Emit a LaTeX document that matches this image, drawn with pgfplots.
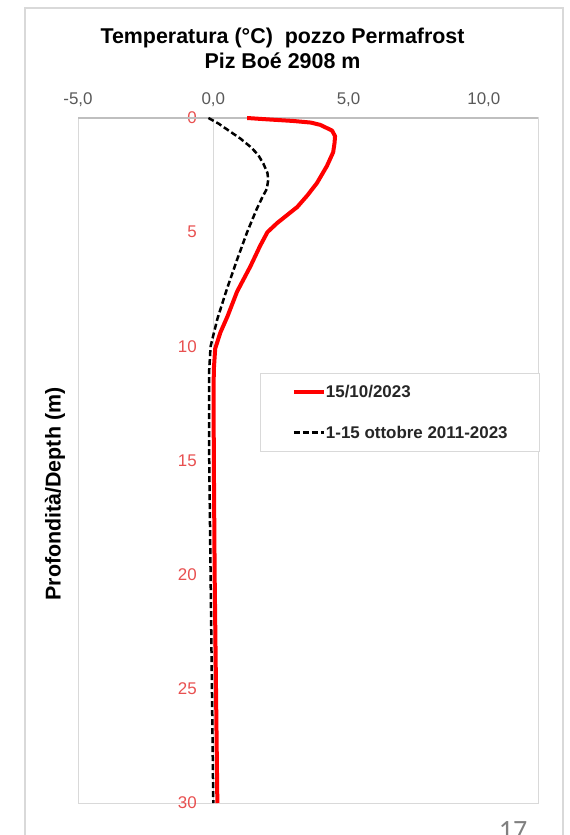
\documentclass[border=0pt]{standalone}
\usepackage{fontspec}
\setmainfont{Liberation Sans}
\newfontfamily\carlito{Carlito}
\usepackage{pgfplots}
\pgfplotsset{compat=1.18}
\definecolor{tickred}{HTML}{E85050}
\definecolor{tickgray}{HTML}{595959}
\definecolor{framegray}{HTML}{D9D9D9}
\definecolor{axgray}{HTML}{BFBFBF}
\begin{document}
\begin{tikzpicture}[x=1bp,y=1bp]
\useasboundingbox (0,0) rectangle (570,835);
\draw[framegray, line width=1.2bp] (25,-10) -- (25,827) -- (563,827) -- (563,-10);
\node[text=gray, font=\carlito\fontsize{28}{30}\selectfont, anchor=base, inner sep=0pt] at (513,-4) {17};
\begin{axis}[
  at={(78bp,32bp)}, anchor=south west,
  scale only axis, width=460bp, height=685bp,
  xmin=-5, xmax=12, ymin=0, ymax=30,
  y dir=reverse,
  xtick={-5,0,5,10},
  xticklabels={{-5,0},{0,0},{5,0},{10,0}},
  ytick={0,5,10,15,20,25,30},
  xticklabel pos=right,
  major tick length=0pt,
  axis line style={draw=framegray, line width=1bp},
  x tick label style={font=\fontsize{17}{19}\selectfont, text=tickgray, inner sep=0pt, anchor=south, yshift=11bp},
  y tick label style={font=\fontsize{17}{19}\selectfont, text=tickred, inner sep=0pt, anchor=east, xshift=119bp},
  /pgf/number format/assume math mode=true,
  title={Temperatura (°C)\ \ pozzo Permafrost\\Piz Boé 2908 m},
  title style={font=\bfseries\fontsize{21.5}{25}\selectfont, align=center, at={(axis description cs:0.4446,1.0926)}, anchor=center},
  ylabel={Profondità/Depth (m)},
  ylabel style={font=\bfseries\fontsize{21.5}{22}\selectfont, at={(axis description cs:-0.05,0.451)}, anchor=center},
  legend style={at={(axis description cs:1.004,0.628)}, anchor=north east, draw=framegray, fill=white,
    font=\bfseries\fontsize{17}{18}\selectfont, text=black!85, row sep=23bp, inner xsep=32bp, inner ysep=10bp,
    nodes={inner xsep=0bp},
    /tikz/every odd column/.append style={column sep=0pt}},
  legend cell align=left,
  legend image code/.code={\draw[#1] (0bp,0bp) -- (30bp,0bp);},
  clip=false,
]
\draw[framegray, line width=1bp] (axis cs:0,0) -- (axis cs:0,30);
\draw[axgray, line width=1.5bp] (axis cs:-5,0) -- (axis cs:12,0);
\addplot[red, line width=4bp, line join=round] coordinates {
(1.25,0) (2.0,0.06) (2.95,0.13) (3.6,0.2) (3.95,0.3) (4.39,0.55) (4.5,0.8) (4.48,1.1) (4.43,1.5) (4.2,2.1) (3.83,2.85) (3.47,3.4) (3.1,3.9) (2.36,4.6) (2.0,5.0) (1.73,5.6) (1.37,6.5) (0.88,7.6) (0.52,8.7) (0.26,9.4) (0.07,10.1) (0.02,11) (0.01,12) (0.02,15) (0.05,20) (0.1,25) (0.15,30)
};
\addlegendentry{15/10/2023}
\addplot[black, line width=2.5bp, dash pattern=on 6bp off 3bp] coordinates {
(-0.18,0) (0.2,0.25) (0.63,0.6) (1.0,0.9) (1.37,1.26) (1.65,1.6) (1.85,2.0) (2.0,2.4) (2.03,2.7) (1.98,3.1) (1.8,3.5) (1.6,4.0) (1.25,5.0) (0.88,6.2) (0.5,7.5) (0.15,8.8) (-0.1,10.0) (-0.15,11) (-0.15,15) (-0.1,20) (-0.05,25) (0.0,30)
};
\addlegendentry{1-15 ottobre 2011-2023}
\end{axis}
\end{tikzpicture}
\end{document}
